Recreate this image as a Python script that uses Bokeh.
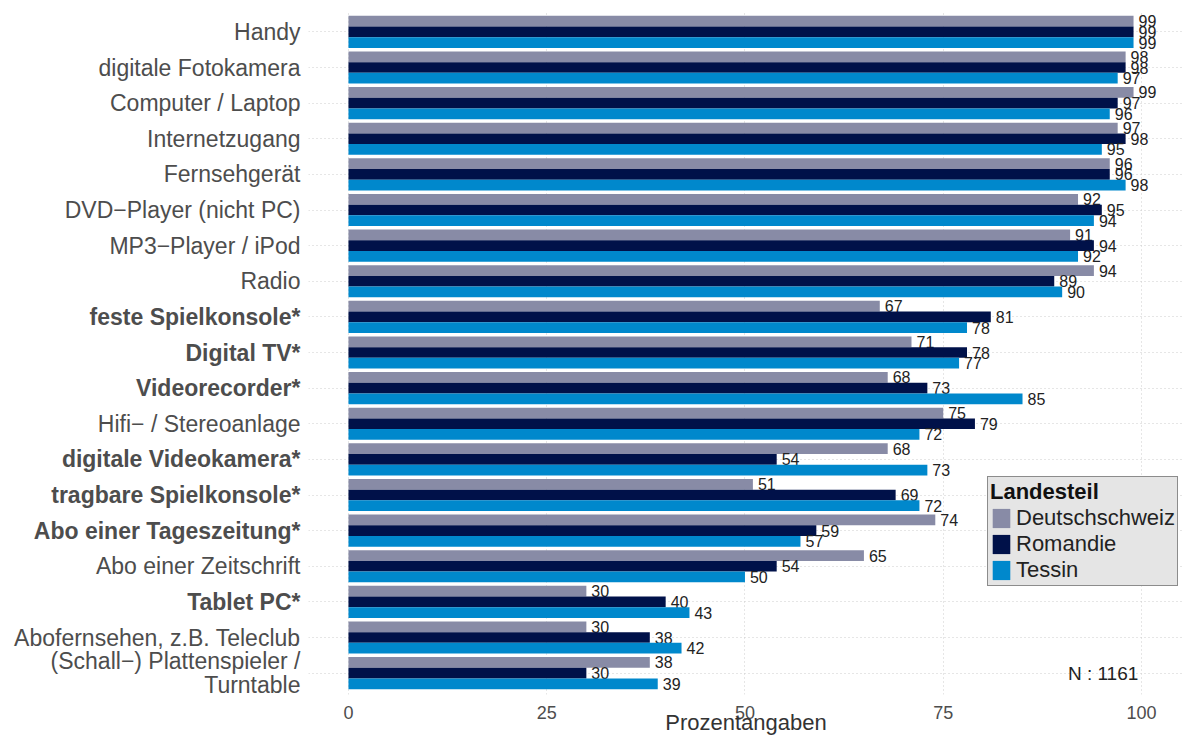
from bokeh.plotting import figure
from bokeh.layouts import row
from bokeh.models import ColumnDataSource, FactorRange, Range1d, FixedTicker, LabelSet
from bokeh.transform import dodge
from bokeh.core.properties import value
from bokeh.embed import file_html
from bokeh.resources import INLINE

categories = [
    "Handy",
    "digitale Fotokamera",
    "Computer / Laptop",
    "Internetzugang",
    "Fernsehgerät",
    "DVD−Player (nicht PC)",
    "MP3−Player / iPod",
    "Radio",
    "feste Spielkonsole*",
    "Digital TV*",
    "Videorecorder*",
    "Hifi− / Stereoanlage",
    "digitale Videokamera*",
    "tragbare Spielkonsole*",
    "Abo einer Tageszeitung*",
    "Abo einer Zeitschrift",
    "Tablet PC*",
    "Abofernsehen, z.B. Teleclub",
    "(Schall−) Plattenspieler /\nTurntable",
]
deutschschweiz = [99, 98, 99, 97, 96, 92, 91, 94, 67, 71, 68, 75, 68, 51, 74, 65, 30, 30, 38]
romandie = [99, 98, 97, 98, 96, 95, 94, 89, 81, 78, 73, 79, 54, 69, 59, 54, 40, 38, 30]
tessin = [99, 97, 96, 95, 98, 94, 92, 90, 78, 77, 85, 72, 73, 72, 57, 50, 43, 42, 39]
series_names = ["Deutschschweiz", "Romandie", "Tessin"]
series_colors = ["#888BA6", "#001149", "#0088CC"]
x_ticks = [0, 25, 50, 75, 100]
legend_title = "Landesteil"
x_title = "Prozentangaben"
n_label = "N : 1161"

FONT = "Liberation Sans"
H = 738
TOP = 10
BOTTOM = 44
LEFT_W = 308

src = ColumnDataSource(dict(
    cat=categories,
    de=deutschschweiz, ro=romandie, te=tessin,
    de_lab=[str(v) for v in deutschschweiz],
    ro_lab=[str(v) for v in romandie],
    te_lab=[str(v) for v in tessin],
))

y_range = FactorRange(factors=list(reversed(categories)), range_padding=0.1,
                      range_padding_units="absolute")

# ---- left panel with category labels ----
lp = figure(width=LEFT_W, height=H, y_range=y_range, x_range=Range1d(0, LEFT_W),
            output_backend="svg", toolbar_location=None,
            x_axis_type=None, y_axis_type=None,
            min_border_left=0, min_border_right=0, min_border_top=TOP, min_border_bottom=BOTTOM)
lp.outline_line_color = None
lp.xgrid.visible = False
lp.ygrid.visible = False

for bold in (False, True):
    idx = [i for i, c in enumerate(categories) if c.endswith("*") == bold]
    s = ColumnDataSource(dict(x=[LEFT_W - 8] * len(idx), y=[categories[i] for i in idx],
                              t=[categories[i] for i in idx]))
    lp.text(x="x", y="y", text="t", source=s, text_align="right", text_baseline="middle",
            text_font=value(FONT), text_font_size="23px",
            text_font_style="bold" if bold else "normal", text_color="#4D4D4D",
            text_line_height=0.95)

# ---- main panel ----
p = figure(width=1183 - LEFT_W, height=H, y_range=y_range, x_range=Range1d(-5.04, 105.3),
           output_backend="svg", toolbar_location=None,
           min_border_left=0, min_border_right=0, min_border_top=TOP, min_border_bottom=BOTTOM)
p.outline_line_color = None
p.background_fill_color = "white"

offsets = [0.3, 0.0, -0.3]
cols = ["de", "ro", "te"]
for col, off, name, color in zip(cols, offsets, series_names, series_colors):
    p.hbar(y=dodge("cat", off, range=p.y_range), left=0, right=col, height=0.3,
           fill_color=color, line_color=None, source=src, legend_label=name)
    p.text(x=col, y=dodge("cat", off, range=p.y_range), text=col + "_lab", source=src,
           x_offset=5, text_baseline="middle", text_align="left",
           text_font=value(FONT), text_font_size="16px", text_color="#222222")

p.yaxis.visible = False
p.xaxis.ticker = FixedTicker(ticks=x_ticks)
p.xaxis.axis_line_color = None
p.xaxis.major_tick_line_color = None
p.xaxis.minor_tick_line_color = None
p.xaxis.major_label_text_font = FONT
p.xaxis.major_label_text_font_size = "18px"
p.xaxis.major_label_text_color = "#4D4D4D"
p.xaxis.major_label_standoff = 5
p.xaxis.axis_label = x_title
p.xaxis.axis_label_text_font = FONT
p.xaxis.axis_label_text_font_size = "22px"
p.xaxis.axis_label_text_font_style = "normal"
p.xaxis.axis_label_text_color = "#333333"
p.xaxis.axis_label_standoff = -12

for g in (p.xgrid, p.ygrid):
    g.grid_line_color = "#CCCCCC"
    g.grid_line_dash = "1 3"
    g.grid_line_width = 1
p.xgrid.ticker = FixedTicker(ticks=x_ticks)

ns = ColumnDataSource(dict(x=[99.6], y=[categories[-1]], t=[n_label]))
p.add_layout(LabelSet(x="x", y="y", text="t", source=ns, text_align="right",
                      text_baseline="middle", text_font=value(FONT),
                      text_font_size="19px", text_color="#222222"))

lg = p.legend[0]
lg.title = legend_title
lg.title_text_font = FONT
lg.title_text_font_size = "22px"
lg.title_text_font_style = "bold"
lg.title_text_color = "#111111"
lg.title_standoff = 0
lg.label_text_font = FONT
lg.label_text_font_size = "22px"
lg.label_text_color = "#222222"
lg.glyph_width = 22
lg.glyph_height = 24
lg.label_height = 24
lg.label_standoff = 4
lg.spacing = 0
lg.padding = 2
lg.margin = 0
lg.background_fill_color = "#E5E5E5"
lg.background_fill_alpha = 1
lg.border_line_color = "#333333"
lg.border_line_width = 1.5
lg.location = (679, 108)

layout = row(lp, p)
open("out.html", "w").write(file_html(layout, INLINE))
